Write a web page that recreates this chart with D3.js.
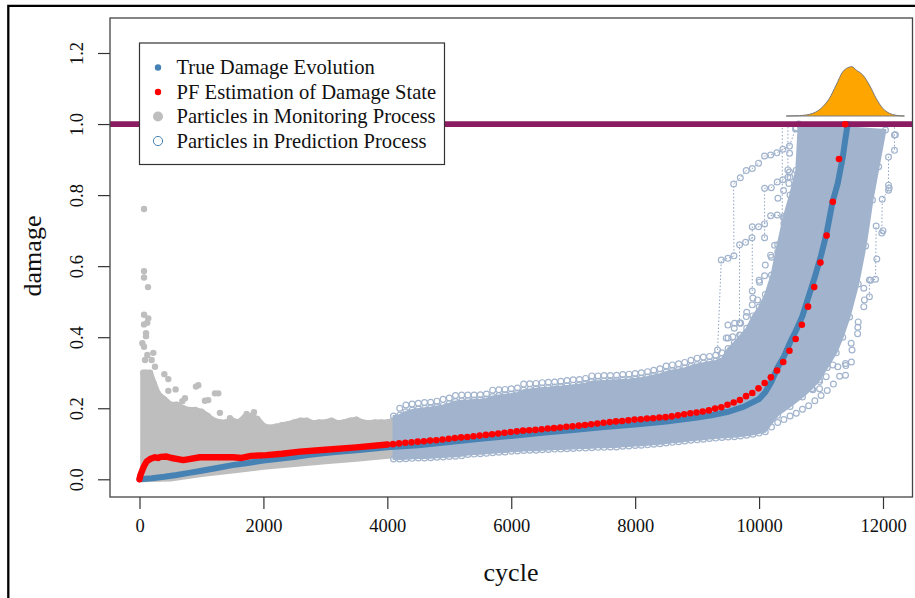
<!DOCTYPE html>
<html>
<head>
<meta charset="utf-8">
<script src="https://cdn.jsdelivr.net/npm/d3@7"></script>
<style>
  body { margin: 0; background: #fff; }
  text { font-family: "Liberation Serif", serif; fill: #111; }
</style>
</head>
<body>
<svg id="chart" width="915" height="598"></svg>
<script>
// values
const xTicks = [0, 2000, 4000, 6000, 8000, 10000, 12000];
const yTicks = [0, 0.2, 0.4, 0.6, 0.8, 1.0, 1.2];
const threshold = 1.0;

const trueCycle = [0, 200, 400, 600, 800, 1000, 1250, 1500, 1750, 2000, 2250, 2500, 2750, 3000, 3250, 3500, 3750, 4000, 4500, 5000, 5500, 6000, 6500, 7000, 7500, 8000, 8500, 8750, 9000, 9250, 9500, 9750, 10000, 10100, 10200, 10300, 10400, 10500, 10600, 10700, 10800, 10900, 11000, 11090, 11185, 11270, 11352, 11390, 11430];
const trueDamage = [0, 0.003, 0.007, 0.012, 0.018, 0.024, 0.032, 0.04, 0.046, 0.053, 0.058, 0.063, 0.069, 0.074, 0.078, 0.082, 0.086, 0.09, 0.096, 0.105, 0.114, 0.122, 0.131, 0.139, 0.147, 0.154, 0.163, 0.168, 0.174, 0.181, 0.19, 0.204, 0.226, 0.245, 0.275, 0.315, 0.345, 0.385, 0.42, 0.46, 0.515, 0.57, 0.63, 0.693, 0.781, 0.833, 0.908, 0.955, 1.0];

// thick run of PF estimates during monitoring
const pfEarlyCycle = [0, 15, 35, 70, 115, 170, 250, 300, 340, 438, 520, 620, 706, 800, 976, 1200, 1510, 1650, 1800, 2050, 2300, 2590, 3000, 3500, 4000];
const pfEarlyDamage = [0, 0.012, 0.021, 0.036, 0.05, 0.057, 0.062, 0.06, 0.063, 0.064, 0.06, 0.057, 0.054, 0.057, 0.062, 0.062, 0.062, 0.06, 0.066, 0.068, 0.072, 0.078, 0.083, 0.09, 0.098];

// separate PF dots during prediction
const pfCycle = [4090, 4190, 4290, 4390, 4490, 4590, 4690, 4790, 4890, 4990, 5090, 5190, 5290, 5390, 5490, 5590, 5690, 5790, 5890, 5990, 6090, 6190, 6290, 6390, 6490, 6590, 6690, 6790, 6890, 6990, 7090, 7190, 7290, 7390, 7490, 7590, 7690, 7790, 7890, 7990, 8090, 8190, 8290, 8390, 8490, 8590, 8690, 8790, 8890, 8990, 9090, 9190, 9290, 9390, 9490, 9590, 9690, 9790, 9890, 9990, 10090, 10190, 10290, 10390, 10490, 10590, 10690, 10790, 10890, 10990, 11090, 11190, 11290, 11390];
const pfDamage = [0.099, 0.101, 0.103, 0.104, 0.106, 0.107, 0.109, 0.11, 0.112, 0.114, 0.116, 0.118, 0.119, 0.121, 0.123, 0.125, 0.127, 0.129, 0.131, 0.133, 0.135, 0.137, 0.138, 0.139, 0.141, 0.143, 0.144, 0.146, 0.148, 0.149, 0.151, 0.153, 0.155, 0.157, 0.159, 0.161, 0.163, 0.164, 0.166, 0.168, 0.169, 0.171, 0.172, 0.174, 0.175, 0.177, 0.18, 0.183, 0.186, 0.188, 0.191, 0.194, 0.199, 0.203, 0.21, 0.216, 0.223, 0.234, 0.243, 0.256, 0.271, 0.287, 0.306, 0.33, 0.362, 0.395, 0.435, 0.486, 0.541, 0.61, 0.686, 0.781, 0.9015, 0.9995];

// monitoring particles, top and bottom of the grey cloud
const grayCycle = [60, 100, 170, 230, 300, 400, 500, 600, 700, 800, 900, 1000, 1100, 1200, 1300, 1400, 1500, 1600, 1700, 1800, 1900, 2000, 2100, 2200, 2300, 2400, 2500, 2600, 2700, 2800, 2900, 3000, 3100, 3200, 3300, 3400, 3500, 3600, 3700, 3800, 3900, 4000, 4100];
const grayUpper = [0.3, 0.3, 0.3, 0.27, 0.24, 0.225, 0.21, 0.21, 0.2, 0.195, 0.195, 0.19, 0.178, 0.165, 0.16, 0.16, 0.165, 0.16, 0.175, 0.178, 0.17, 0.15, 0.145, 0.148, 0.152, 0.155, 0.16, 0.165, 0.165, 0.158, 0.16, 0.16, 0.165, 0.158, 0.16, 0.165, 0.168, 0.16, 0.158, 0.16, 0.16, 0.16, 0.165];
const grayLowCycle = [4100, 3500, 3000, 2500, 2000, 1500, 1000, 500, 60];
const grayLower = [0.068, 0.058, 0.051, 0.043, 0.035, 0.025, 0.015, 0.002, 0];
const grayOutCycle = [73, 73, 73, 137, 73, 142, 126, 73, 105, 105, 46, 73, 223, 126, 89, 196, 250, 401, 465, 583, 465, 949, 911, 1218, 1272, 734, 691, 1110, 1056, 1298, 1460, 1729, 1847];
const grayOutDamage = [0.761, 0.586, 0.568, 0.541, 0.463, 0.453, 0.441, 0.436, 0.411, 0.403, 0.383, 0.373, 0.356, 0.35, 0.336, 0.336, 0.317, 0.296, 0.282, 0.253, 0.249, 0.265, 0.261, 0.242, 0.242, 0.228, 0.22, 0.223, 0.221, 0.187, 0.172, 0.184, 0.189];

// prediction particles: outer ring rows
const predUpCycle = [4200, 4300, 4400, 4500, 4600, 4700, 4800, 4900, 5000, 5100, 5200, 5300, 5400, 5500, 5600, 5700, 5800, 5900, 6000, 6100, 6200, 6300, 6400, 6500, 6600, 6700, 6800, 6900, 7000, 7100, 7200, 7300, 7400, 7500, 7600, 7700, 7800, 7900, 8000, 8100, 8200, 8300, 8400, 8500, 8600, 8700, 8800, 8900, 9000, 9100, 9200, 9300, 9400, 9500, 9600, 9700, 9800, 9900, 10000, 10100, 10200, 10300, 10400, 10500, 10600];
const predUpper = [0.2, 0.209, 0.212, 0.214, 0.216, 0.217, 0.22, 0.225, 0.229, 0.236, 0.237, 0.237, 0.237, 0.238, 0.24, 0.251, 0.252, 0.253, 0.255, 0.257, 0.268, 0.269, 0.27, 0.272, 0.273, 0.274, 0.276, 0.278, 0.28, 0.281, 0.284, 0.291, 0.291, 0.292, 0.292, 0.293, 0.295, 0.296, 0.298, 0.3, 0.303, 0.307, 0.311, 0.319, 0.322, 0.325, 0.329, 0.335, 0.341, 0.344, 0.346, 0.349, 0.356, 0.398, 0.425, 0.44, 0.47, 0.51, 0.56, 0.603, 0.625, 0.64, 0.72, 0.85, 0.989];
const predLowCycle = [4100, 4200, 4300, 4400, 4500, 4600, 4700, 4800, 4900, 5000, 5100, 5200, 5300, 5400, 5500, 5600, 5700, 5800, 5900, 6000, 6100, 6200, 6300, 6400, 6500, 6600, 6700, 6800, 6900, 7000, 7100, 7200, 7300, 7400, 7500, 7600, 7700, 7800, 7900, 8000, 8100, 8200, 8300, 8400, 8500, 8600, 8700, 8800, 8900, 9000, 9100, 9200, 9300, 9400, 9500, 9600, 9700, 9800, 9900, 10000, 10100, 10200, 10300, 10400, 10500, 10600, 10700, 10800, 10900, 11000, 11100, 11200, 11300, 11400, 11500, 11600, 11700, 11800, 11900, 12000, 12100, 12200];
const predLower = [0.057, 0.057, 0.058, 0.059, 0.06, 0.06, 0.061, 0.062, 0.063, 0.064, 0.065, 0.066, 0.07, 0.071, 0.072, 0.073, 0.075, 0.076, 0.077, 0.079, 0.08, 0.081, 0.082, 0.082, 0.083, 0.084, 0.085, 0.085, 0.086, 0.087, 0.088, 0.088, 0.089, 0.09, 0.09, 0.091, 0.091, 0.093, 0.094, 0.095, 0.096, 0.097, 0.099, 0.1, 0.102, 0.104, 0.106, 0.108, 0.11, 0.111, 0.113, 0.115, 0.116, 0.118, 0.119, 0.12, 0.122, 0.124, 0.127, 0.13, 0.134, 0.147, 0.16, 0.168, 0.178, 0.186, 0.197, 0.207, 0.221, 0.236, 0.25, 0.268, 0.29, 0.32, 0.364, 0.443, 0.505, 0.56, 0.62, 0.7, 0.82, 0.97];

// inner ring row, also the top edge of the solid part of the cloud
const predInCycle = [4100, 4200, 4300, 4400, 4500, 4600, 4700, 4800, 4900, 5000, 5100, 5200, 5300, 5400, 5500, 5600, 5700, 5800, 5900, 6000, 6100, 6200, 6300, 6400, 6500, 6600, 6700, 6800, 6900, 7000, 7100, 7200, 7300, 7400, 7500, 7600, 7700, 7800, 7900, 8000, 8100, 8200, 8300, 8400, 8500, 8600, 8700, 8800, 8900, 9000, 9100, 9200, 9300, 9400, 9500, 9600, 9700, 9800, 9900, 10000, 10100, 10200, 10300, 10400, 10500, 10600];
const predInner = [0.178, 0.181, 0.19, 0.195, 0.198, 0.2, 0.202, 0.205, 0.208, 0.213, 0.219, 0.221, 0.222, 0.223, 0.224, 0.226, 0.233, 0.236, 0.238, 0.24, 0.243, 0.251, 0.253, 0.255, 0.257, 0.258, 0.26, 0.261, 0.263, 0.265, 0.267, 0.27, 0.275, 0.276, 0.277, 0.278, 0.279, 0.28, 0.281, 0.283, 0.285, 0.288, 0.292, 0.296, 0.302, 0.306, 0.309, 0.313, 0.318, 0.323, 0.327, 0.33, 0.333, 0.34, 0.368, 0.385, 0.405, 0.425, 0.46, 0.485, 0.52, 0.575, 0.66, 0.74, 0.8, 0.87];

// right edge of the solid part, top to bottom
const solidRightCycle = [10640, 12040, 11930, 11830, 11720, 11600, 11460, 11350, 11245, 11100, 10976, 10850, 10700, 10500, 10300];
const solidRightDamage = [1.0, 0.983, 0.88, 0.786, 0.657, 0.55, 0.457, 0.4, 0.356, 0.315, 0.28, 0.255, 0.232, 0.205, 0.18];

// loose rings around the cloud
const looseCycle = [9470, 9575, 9685, 9793, 9497, 9605, 9701, 9793, 9890, 9976, 10008, 10089, 10186, 10250, 11690, 11690, 11395, 11490, 11590, 10976, 10492, 10465, 10481, 10395, 10304, 10492, 10465, 10492, 11191, 11083, 10976, 10868, 11271, 11394, 11486, 11594];
const looseDamage = [0.398, 0.401, 0.406, 0.413, 0.434, 0.439, 0.439, 0.458, 0.491, 0.505, 0.555, 0.573, 0.631, 0.659, 0.486, 0.538, 0.293, 0.33, 0.41, 0.255, 0.918, 0.871, 0.833, 0.813, 0.791, 0.767, 0.734, 0.702, 0.322, 0.289, 0.275, 0.252, 0.317, 0.326, 0.383, 0.428];

// single particle paths that stay outside the cloud
const traceACycle = [9330, 9390, 9497, 9594, 9589, 9697, 9793, 9890, 9992, 10089, 10186, 10287, 10384, 10491, 10588];
const traceADamage = [0.364, 0.617, 0.622, 0.629, 0.831, 0.849, 0.869, 0.875, 0.89, 0.91, 0.913, 0.919, 0.929, 0.938, 0.986];
const traceBCycle = [10089, 10089, 10197, 10293, 10384, 10491];
const traceBDamage = [0.68, 0.819, 0.821, 0.837, 0.843, 0.865];
const traceCCycle = [9890, 9890, 9992, 10089, 10186, 10293, 10395];
const traceCDamage = [0.53, 0.711, 0.711, 0.719, 0.742, 0.744, 0.736];
const traceDCycle = [9685, 9685, 9782, 9885];
const traceDDamage = [0.44, 0.66, 0.667, 0.68];
const traceECycle = [11980, 11988, 12089, 12089, 12089, 12185, 12185, 12185];
const traceEDamage = [0.693, 0.788, 0.814, 0.828, 0.907, 0.926, 0.969, 1.0];
const traceFCycle = [11781, 11781, 11879, 11890];
const traceFDamage = [0.514, 0.561, 0.563, 0.713];
const traceGCycle = [10374, 10374];
const traceGDamage = [0.65, 1.0];
const traceHCycle = [10465, 10465];
const traceHDamage = [0.85, 1.0];
const traces = [[traceACycle, traceADamage], [traceBCycle, traceBDamage], [traceCCycle, traceCDamage], [traceDCycle, traceDDamage], [traceECycle, traceEDamage], [traceFCycle, traceFDamage], [traceGCycle, traceGDamage], [traceHCycle, traceHDamage]];

// failure-life density above the threshold
const densityCycle = [10438, 10653, 10868, 11029, 11136, 11244, 11352, 11432, 11497, 11567, 11674, 11781, 11889, 11996, 12104, 12211, 12346];
const densityValue = [0, 0.007, 0.054, 0.189, 0.358, 0.628, 0.9, 0.98, 1, 0.932, 0.831, 0.628, 0.358, 0.155, 0.054, 0.014, 0];

const legendLabels = ['True Damage Evolution', 'PF Estimation of Damage State', 'Particles in Monitoring Process', 'Particles in Prediction Process'];

const plot = { left: 110, right: 912.5, top: 18, bottom: 497 };
const ringColor = '#a2b4cd';
const zip = (xs, ys) => xs.map((x, i) => [x, ys[i]]);

const svg = d3.select('#chart');
const x = d3.scaleLinear().domain([0, 12000]).range([139.5, 883]);
const y = d3.scaleLinear().domain([0, 1.2]).range([479.3, 53]);
const densityY = d3.scaleLinear().domain([0, 1]).range([116, 66.7]);

const line = d3.line().x(d => x(d[0])).y(d => y(d[1]));
const g = svg.append('g');

// photo frame around the figure
svg.append('path')
    .attr('d', 'M8.3,598V5.8H915')
    .attr('fill', 'none')
    .attr('stroke', '#000')
    .attr('stroke-width', 2.3);

// grey cloud
g.append('path')
    .attr('d', line(zip(grayCycle, grayUpper).concat(zip(grayLowCycle, grayLower))) + 'Z')
    .attr('fill', '#bebebe')
    .attr('stroke', '#bebebe')
    .attr('stroke-width', 6)
    .attr('stroke-linejoin', 'round');

g.selectAll('.gray-top')
    .data(zip(grayCycle, grayUpper).concat(zip(grayOutCycle, grayOutDamage)))
    .join('circle')
    .attr('class', 'gray-top')
    .attr('cx', d => x(d[0]))
    .attr('cy', d => y(d[1]))
    .attr('r', 3.2)
    .attr('fill', '#bebebe');

// dotted particle paths sit under the rings
g.selectAll('.trace')
    .data(traces)
    .join('path')
    .attr('class', 'trace')
    .attr('d', d => line(zip(d[0], d[1])))
    .attr('fill', 'none')
    .attr('stroke', '#8ea3c3')
    .attr('stroke-width', 1)
    .attr('stroke-dasharray', '1.5 2');

// prediction cloud
const solidBottom = zip(predLowCycle, predLower).filter(d => d[0] <= 10100).reverse();
const solidOutline = zip(predInCycle, predInner).concat(zip(solidRightCycle, solidRightDamage), solidBottom);

g.append('path')
    .attr('d', line(solidOutline) + 'Z')
    .attr('fill', ringColor)
    .attr('stroke', ringColor)
    .attr('stroke-width', 2)
    .attr('stroke-linejoin', 'round');

const rings = zip(predUpCycle, predUpper)
    .concat(zip(predInCycle, predInner))
    .concat(zip(predLowCycle, predLower))
    .concat(zip(solidRightCycle, solidRightDamage))
    .concat(zip(looseCycle, looseDamage))
    .concat(traces.flatMap(t => zip(t[0], t[1]).filter(p => p[1] < 0.99)));

g.selectAll('.ring')
    .data(rings)
    .join('circle')
    .attr('class', 'ring')
    .attr('cx', d => x(d[0]))
    .attr('cy', d => y(d[1]))
    .attr('r', 2.9)
    .attr('fill', 'none')
    .attr('stroke', ringColor)
    .attr('stroke-width', 1.2);

// true damage
g.append('path')
    .attr('d', line(zip(trueCycle, trueDamage)))
    .attr('fill', 'none')
    .attr('stroke', '#4682b4')
    .attr('stroke-width', 6)
    .attr('stroke-linecap', 'round');

// threshold
g.append('line')
    .attr('x1', plot.left)
    .attr('x2', plot.right)
    .attr('y1', y(threshold))
    .attr('y2', y(threshold))
    .attr('stroke', '#8b1c62')
    .attr('stroke-width', 5.8);

// PF estimate
g.append('path')
    .attr('d', line(zip(pfEarlyCycle, pfEarlyDamage)))
    .attr('fill', 'none')
    .attr('stroke', '#f00')
    .attr('stroke-width', 6.4)
    .attr('stroke-linecap', 'round')
    .attr('stroke-linejoin', 'round');

g.selectAll('.pf')
    .data(zip(pfCycle, pfDamage))
    .join('circle')
    .attr('class', 'pf')
    .attr('cx', d => x(d[0]))
    .attr('cy', d => y(d[1]))
    .attr('r', 3.3)
    .attr('fill', '#f00');

// density of the failure cycle
const densityArea = d3.area()
    .x(d => x(d[0]))
    .y0(densityY(0))
    .y1(d => densityY(d[1]))
    .curve(d3.curveMonotoneX);

g.append('path')
    .attr('d', densityArea(zip(densityCycle, densityValue)))
    .attr('fill', '#ffa500')
    .attr('stroke', '#7a7a7a')
    .attr('stroke-width', 1);

// axes, R style: ticks outside, no domain line
const xAxis = g.append('g')
    .attr('transform', `translate(0,${plot.bottom})`)
    .call(d3.axisBottom(x).tickValues(xTicks).tickSize(12).tickPadding(10).tickFormat(d3.format('d')));
const yAxis = g.append('g')
    .attr('transform', `translate(${plot.left},0)`)
    .call(d3.axisLeft(y).tickValues(yTicks).tickSize(12).tickFormat(d3.format('.1f')));

xAxis.select('.domain').remove();
yAxis.select('.domain').remove();
xAxis.selectAll('line').attr('stroke', '#333').attr('stroke-width', 1.2);
yAxis.selectAll('line').attr('stroke', '#333').attr('stroke-width', 1.2);
xAxis.selectAll('text').style('font-size', '18.5px').style('font-family', '"Liberation Serif", serif').attr('fill', '#111');
yAxis.selectAll('text')
    .style('font-size', '18.5px')
    .style('font-family', '"Liberation Serif", serif')
    .attr('fill', '#111')
    .attr('text-anchor', 'middle')
    .attr('dy', null)
    .attr('x', null)
    .attr('y', 6)
    .attr('transform', 'translate(-33,0) rotate(-90)');

g.append('rect')
    .attr('x', plot.left)
    .attr('y', plot.top)
    .attr('width', plot.right - plot.left)
    .attr('height', plot.bottom - plot.top)
    .attr('fill', 'none')
    .attr('stroke', '#444')
    .attr('stroke-width', 1.3);

// axis titles
g.append('text')
    .attr('x', 511)
    .attr('y', 581)
    .attr('text-anchor', 'middle')
    .style('font-size', '26px')
    .text('cycle');

g.append('text')
    .attr('transform', 'translate(41,256) rotate(-90)')
    .attr('text-anchor', 'middle')
    .style('font-size', '26px')
    .text('damage');

// legend
const legend = g.append('g');
legend.append('rect')
    .attr('x', 139.5)
    .attr('y', 43)
    .attr('width', 305)
    .attr('height', 121.5)
    .attr('fill', '#fff')
    .attr('stroke', '#333')
    .attr('stroke-width', 1.2);

const legendRow = d3.scalePoint().domain(legendLabels).range([67.5, 141]);

legend.selectAll('text')
    .data(legendLabels)
    .join('text')
    .attr('x', 176.5)
    .attr('y', d => legendRow(d) + 6.5)
    .style('font-size', '20.6px')
    .text(d => d);

legend.append('circle').attr('cx', 158).attr('cy', legendRow(legendLabels[0])).attr('r', 3.2).attr('fill', '#4682b4');
legend.append('circle').attr('cx', 158).attr('cy', legendRow(legendLabels[1])).attr('r', 3.2).attr('fill', '#f00');
legend.append('circle').attr('cx', 158).attr('cy', legendRow(legendLabels[2])).attr('r', 5).attr('fill', '#bebebe');
legend.append('circle').attr('cx', 158).attr('cy', legendRow(legendLabels[3])).attr('r', 4.6).attr('fill', 'none').attr('stroke', '#4682b4').attr('stroke-width', 1);
</script>
</body>
</html>
